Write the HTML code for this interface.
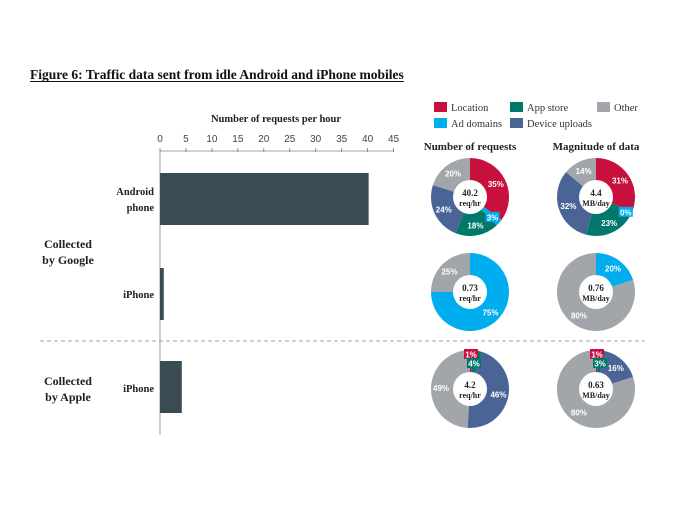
<!DOCTYPE html>
<html><head><meta charset="utf-8"><style>
body{margin:0;background:#fff;}
svg{display:block;font-family:"Liberation Serif",serif;}
</style></head><body>
<svg id="c" width="684" height="513"></svg>
<script>
const barCats=["Android phone","iPhone (Google)","iPhone (Apple)"];
const barVals=[40.2,0.73,4.2];
const ticks=[0,5,10,15,20,25,30,35,40,45];
const segNames=["Location","Ad domains","App store","Device uploads","Other"];
const segColors=["#c8103e","#00aeef","#00796b","#4a6496","#a2a6aa"];
const androidReq=[35,3,18,24,20];
const androidData=[31,0,23,32,14];
const iphoneGReq=[0,75,0,0,25];
const iphoneGData=[0,20,0,0,80];
const appleReq=[1,0,4,46,49];
const appleData=[1,0,3,16,80];
const centerTop=["40.2","4.4","0.73","0.76","4.2","0.63"];
const centerBot=["req/hr","MB/day","req/hr","MB/day","req/hr","MB/day"];

const NS="http://www.w3.org/2000/svg";
const svg=document.getElementById('c');
function mk(tag,attrs,parent){const e=document.createElementNS(NS,tag);for(const k in attrs)e.setAttribute(k,attrs[k]);(parent||svg).appendChild(e);return e;}
function txt(s,attrs,parent){const e=mk('text',attrs,parent);e.textContent=s;return e;}

const x0=160,pxPer=5.19;
const xs=v=>x0+v*pxPer;

let t=txt("Figure 6: Traffic data sent from idle Android and iPhone mobiles",{x:30,y:79,"font-size":13.5,"font-weight":"bold",fill:"#111"});

const tw=t.getComputedTextLength();
mk('line',{x1:30,y1:81.5,x2:30+tw,y2:81.5,stroke:"#111","stroke-width":1});

t=txt("Number of  requests per hour",{x:276,y:122,"font-size":10.5,"font-weight":"bold","text-anchor":"middle",fill:"#222"});

ticks.forEach(v=>{
  const l=txt(String(v),{x:xs(v),y:142,"font-size":10,"text-anchor":"middle",fill:"#444","font-family":"Liberation Sans,sans-serif"});
  
  mk('line',{x1:xs(v),y1:148,x2:xs(v),y2:152,stroke:"#777","stroke-width":0.8});
});
mk('line',{x1:x0,y1:151,x2:xs(45),y2:151,stroke:"#888","stroke-width":0.8});
mk('line',{x1:x0,y1:151,x2:x0,y2:435,stroke:"#888","stroke-width":0.8});

const barTops=[173,268,361],barH=52;
barVals.forEach((v,i)=>{
  const r=mk('rect',{x:x0,y:barTops[i],width:Math.max(v*pxPer,0),height:barH,fill:"#3b4b53"});
  
});
function lbl(lines,x,y,anchor,size,name){
  lines.forEach((s,i)=>{const e=txt(s,{x:x,y:y+i*16,"font-size":size,"font-weight":"bold","text-anchor":anchor,fill:"#222"});
  });
}
lbl(["Android","phone"],154,195,"end",10.5,"android-label");
lbl(["iPhone"],154,298,"end",10.5,"iphone-google-label");
lbl(["iPhone"],154,392,"end",10.5,"iphone-apple-label");
lbl(["Collected","by Google"],68,248,"middle",12,"google-group-label");
lbl(["Collected","by Apple"],68,385,"middle",12,"apple-group-label");

const d=mk('line',{x1:40,y1:341,x2:645,y2:341,stroke:"#888","stroke-width":0.8,"stroke-dasharray":"4,3"});


const legPos=[[434,102],[434,118],[510,102],[510,118],[597,102]];
segNames.forEach((n,i)=>{
  const g=mk('g',{});
  
  mk('rect',{x:legPos[i][0],y:legPos[i][1],width:13,height:10,fill:segColors[i]},g);
  txt(n,{x:legPos[i][0]+17,y:legPos[i][1]+9,"font-size":10.5,fill:"#333"},g);
});
t=txt("Number of requests",{x:470,y:150,"font-size":11,"font-weight":"bold","text-anchor":"middle",fill:"#222"});

t=txt("Magnitude of data",{x:596,y:150,"font-size":11,"font-weight":"bold","text-anchor":"middle",fill:"#222"});


const donuts=[androidReq,androidData,iphoneGReq,iphoneGData,appleReq,appleData];
const centers=[[470,197],[596,197],[470,292],[596,292],[470,389],[596,389]];
const R=39,r0=17;
function boxLabel(g,s,lx,ly,col){
  mk('rect',{x:lx-7,y:ly-5,width:14,height:10,fill:col},g);
  txt(s,{x:lx,y:ly+3.5,"font-size":8,"font-weight":"bold","text-anchor":"middle",fill:"#fff","font-family":"Liberation Sans,sans-serif"},g);
}
donuts.forEach((vals,di)=>{
  const [cx,cy]=centers[di];
  const g=mk('g',{});
  
  const tot=vals.reduce((a,b)=>a+b,0);
  let a=0,topK=0;
  const labels=[];
  vals.forEach((v,i)=>{
    if(v<=0){ if(di===1&&i===1){
        const ang=a/tot*2*Math.PI;
        labels.push(["0%",cx+32*Math.sin(ang),cy-32*Math.cos(ang)+3,segColors[i],true]);}
      return;}
    const a0=a/tot*2*Math.PI,a1=(a+v)/tot*2*Math.PI;a+=v;
    let p;
    if(v>=tot){p=`M${cx} ${cy-R}A${R} ${R} 0 1 1 ${cx-0.01} ${cy-R}Z`;}
    else{const lg=(a1-a0)>Math.PI?1:0;
      p=`M${cx} ${cy}L${cx+R*Math.sin(a0)} ${cy-R*Math.cos(a0)}A${R} ${R} 0 ${lg} 1 ${cx+R*Math.sin(a1)} ${cy-R*Math.cos(a1)}Z`;}
    const s=mk('path',{d:p,fill:segColors[i]},g);
    
    
    const m=(a0+a1)/2,small=v<6;
    if(small && m<0.6){
      labels.push([v+"%",cx+1+3*topK,cy-35+9*topK,segColors[i],true]);topK++;
    } else if(small){
      labels.push([v+"%",cx+30*Math.sin(m),cy-30*Math.cos(m),segColors[i],true]);
    } else {
      labels.push([v+"%",cx+29*Math.sin(m),cy-29*Math.cos(m)+3,segColors[i],false]);
    }
  });
  mk('circle',{cx:cx,cy:cy,r:r0,fill:"#fff"},g);
  labels.forEach(L=>{
    if(L[4]) boxLabel(g,L[0],L[1],L[2],L[3]);
    else txt(L[0],{x:L[1],y:L[2],"font-size":8,"font-weight":"bold","text-anchor":"middle",fill:"#fff","font-family":"Liberation Sans,sans-serif"},g);
  });
  txt(centerTop[di],{x:cx,y:cy-1,"font-size":9,"font-weight":"bold","text-anchor":"middle",fill:"#222"},g);
  txt(centerBot[di],{x:cx,y:cy+9,"font-size":8,"font-weight":"bold","text-anchor":"middle",fill:"#222"},g);
});
</script>
</body></html>
